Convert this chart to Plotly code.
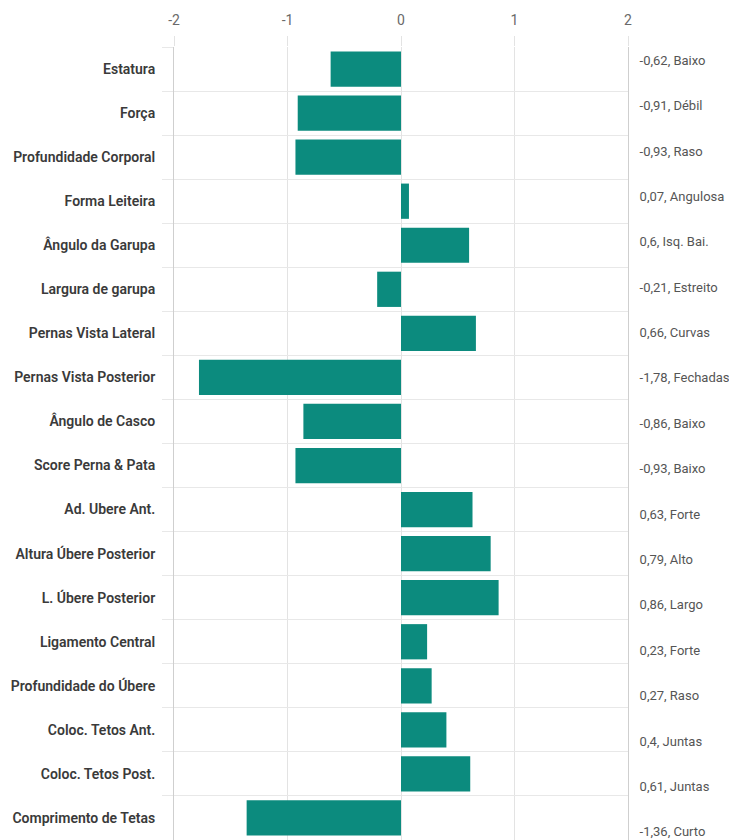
import plotly.graph_objects as go

categorias = [
    "Estatura", "Força", "Profundidade Corporal", "Forma Leiteira",
    "Ângulo da Garupa", "Largura de garupa", "Pernas Vista Lateral",
    "Pernas Vista Posterior", "Ângulo de Casco", "Score Perna & Pata",
    "Ad. Ubere Ant.", "Altura Úbere Posterior", "L. Úbere Posterior",
    "Ligamento Central", "Profundidade do Úbere", "Coloc. Tetos Ant.",
    "Coloc. Tetos Post.", "Comprimento de Tetas",
]
valores = [-0.62, -0.91, -0.93, 0.07, 0.6, -0.21, 0.66, -1.78, -0.86, -0.93,
           0.63, 0.79, 0.86, 0.23, 0.27, 0.4, 0.61, -1.36]
descricoes = ["Baixo", "Débil", "Raso", "Angulosa", "Isq. Bai.", "Estreito",
              "Curvas", "Fechadas", "Baixo", "Baixo", "Forte", "Alto", "Largo",
              "Forte", "Raso", "Juntas", "Juntas", "Curto"]
x_ticks = [-2, -1, 0, 1, 2]


def fmt(v):
    return ("%g" % v).replace(".", ",")


rotulos_dir = [f"{fmt(v)}, {d}" for v, d in zip(valores, descricoes)]
indices = list(range(len(categorias)))

fig = go.Figure()
fig.add_trace(go.Bar(
    x=valores, y=categorias, orientation="h",
    marker=dict(color="#0c8b7e", line=dict(width=0)),
    hoverinfo="skip",
))
# invisible trace to carry the right-hand labels
fig.add_trace(go.Scatter(
    x=[0] * len(indices), y=indices, yaxis="y2", mode="markers",
    marker=dict(opacity=0), hoverinfo="skip", showlegend=False,
))

# page body has an 8px margin, so the figure is sized/offset for it
fig.update_layout(
    width=729, height=832,
    margin=dict(l=166, r=109, t=39, b=0),
    plot_bgcolor="white", paper_bgcolor="white",
    showlegend=False, bargap=0.2,
    font=dict(family="Roboto", size=12, color="#444"),
    xaxis=dict(
        side="top", range=[-2, 2], tickvals=x_ticks,
        ticktext=[str(t) for t in x_ticks],
        showgrid=True, gridcolor="#e3e3e3", gridwidth=1,
        zeroline=True, zerolinecolor="#e3e3e3", zerolinewidth=1,
        ticks="outside", ticklen=10, tickcolor="#e3e3e3",
        tickfont=dict(size=14, color="#6a6a6a"), ticklabelstandoff=5,
        automargin=False, fixedrange=True,
    ),
    yaxis=dict(
        type="category", categoryorder="array", categoryarray=categorias,
        autorange="reversed", tickson="boundaries",
        showgrid=True, gridcolor="#e8e8e8", gridwidth=1,
        ticks="outside", ticklen=11, tickcolor="#e8e8e8",
        showline=True, linecolor="#cfcfcf", linewidth=1,
        tickfont=dict(size=14, color="#3a3a3a", weight=600),
        ticklabelstandoff=15, automargin=False,
    ),
    yaxis2=dict(
        overlaying="y", side="right", anchor="x",
        range=[17.18, -0.29], tickvals=indices, ticktext=rotulos_dir,
        showgrid=False, zeroline=False,
        showline=True, linecolor="#cfcfcf", linewidth=1,
        ticks="", tickfont=dict(size=13, color="#555"),
        ticklabelstandoff=8, automargin=False,
    ),
)

fig.write_html("out.html")
